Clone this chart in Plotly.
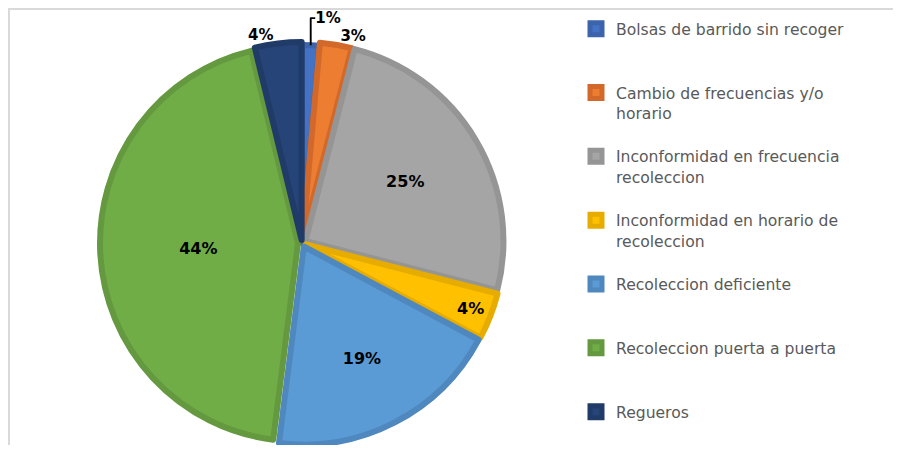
import plotly.graph_objects as go

# datos (porcentaje por tipo de queja)
categorias = [
    "Bolsas de barrido sin recoger",
    "Cambio de frecuencias y/o<br>horario",
    "Inconformidad en frecuencia<br>recoleccion",
    "Inconformidad en horario de<br>recoleccion",
    "Recoleccion deficiente",
    "Recoleccion puerta a puerta",
    "Regueros",
]
valores = [1.4, 2.6, 25.0, 3.8, 19.2, 44.2, 3.8]

colores = ["#4472C4", "#ED7D31", "#A5A5A5", "#FFC000", "#5B9BD5", "#70AD47", "#264478"]
bordes = ["#3B64AD", "#D2692A", "#959595", "#E6AC00", "#4F88BE", "#64993F", "#213B68"]
separacion = [0.0, 0.015, 0.02, 0.02, 0.02, 0.02, 0.015]
posiciones = ["outside", "outside", "inside", "inside", "inside", "inside", "outside"]

# rellenar las entradas de la leyenda a 3 lineas para igualar el espaciado (la ultima no)
etiquetas = []
for i, c in enumerate(categorias):
    n = c.count("<br>") + 1
    if i < len(categorias) - 1:
        etiquetas.append(c + "<br> " * (3 - n))
    else:
        etiquetas.append(c)

# la pagina tiene 8 px de margen en el body
W, H = 885, 437
cx, cy = 294, 235
caja = 2 * min(cy, H - cy)

fig = go.Figure()
fig.add_trace(go.Pie(
    labels=etiquetas,
    values=valores,
    sort=False,
    direction="clockwise",
    rotation=0,
    pull=separacion,
    marker=dict(colors=colores, line=dict(color=bordes, width=6)),
    texttemplate="%{percent:.0%}",
    textposition=posiciones,
    insidetextorientation="horizontal",
    textfont=dict(family="DejaVu Sans", size=16, color="black", weight="bold"),
    outsidetextfont=dict(family="DejaVu Sans", size=15, color="black", weight="bold"),
    hoverinfo="label+percent",
    domain=dict(
        x=[(cx - caja / 2) / W, (cx + caja / 2) / W],
        y=[(H - cy - caja / 2) / H, (H - cy + caja / 2) / H],
    ),
))

fig.update_layout(
    width=W, height=H,
    margin=dict(l=0, r=0, t=0, b=0, autoexpand=False),
    paper_bgcolor="white",
    showlegend=True,
    legend=dict(
        x=568 / W, xanchor="left",
        y=1 - 4 / H, yanchor="top",
        valign="top",
        maxheight=1,
        font=dict(family="DejaVu Sans", size=15.6, color="#595959"),
        traceorder="normal",
    ),
    shapes=[
        dict(type="line", xref="paper", yref="paper", layer="below",
             x0=0, x1=1, y0=1 - 1 / H, y1=1 - 1 / H,
             line=dict(color="#D9D9D9", width=2)),
        dict(type="line", xref="paper", yref="paper", layer="below",
             x0=1 / W, x1=1 / W, y0=0, y1=1,
             line=dict(color="#D9D9D9", width=2)),
    ],
)

fig.write_html("out.html")
